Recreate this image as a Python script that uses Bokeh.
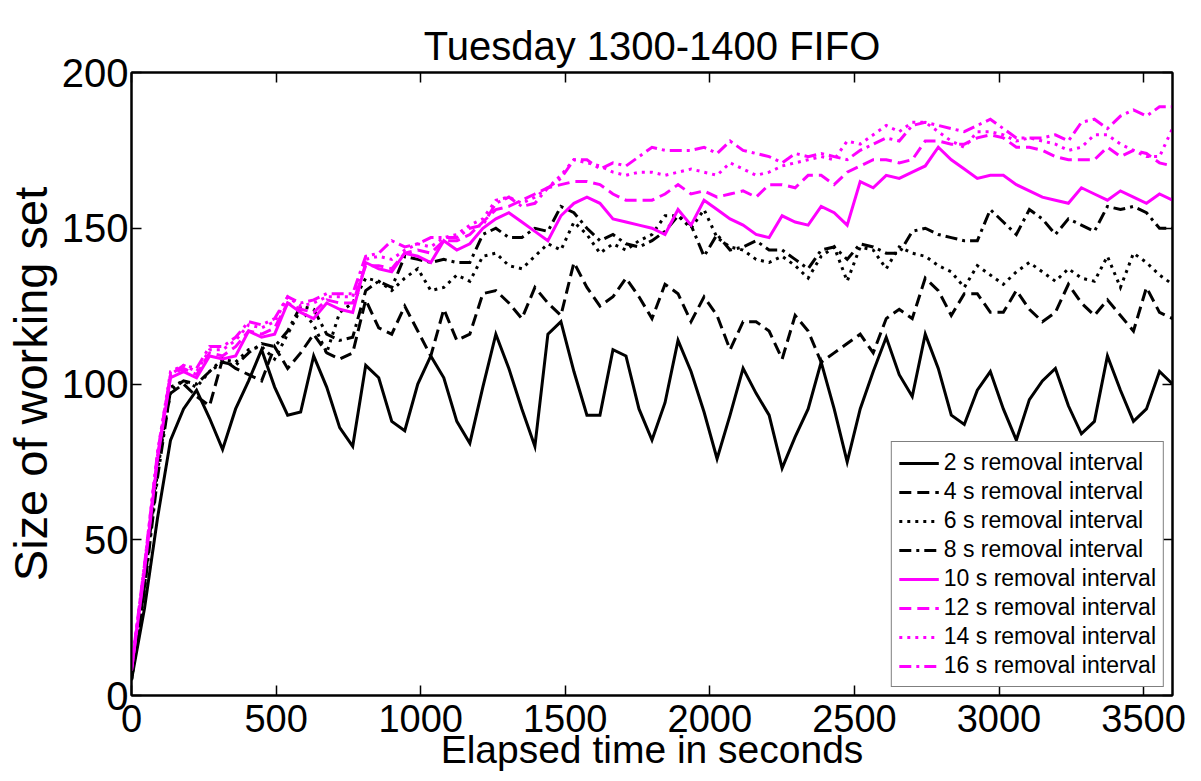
from bokeh.plotting import figure
from bokeh.models import Range1d, LinearAxis, Legend, LegendItem, FixedTicker
from bokeh.embed import file_html
from bokeh.resources import INLINE

# sampling times (s)
time_s = list(range(0, 3601, 45))

s2 = [5, 28, 57, 82, 92, 98, 89, 79, 92, 101,
      111, 99, 90, 91, 109, 99, 86, 80, 106, 102,
      88, 85, 100, 109, 102, 88, 81, 99, 116, 105,
      92, 80, 116, 120, 104, 90, 90, 111, 109, 92,
      82, 94, 114, 104, 91, 76, 90, 105, 97, 90,
      73, 83, 92, 107, 92, 75, 92, 104, 115, 103,
      96, 116, 105, 90, 87, 98, 104, 92, 82, 95,
      101, 105, 93, 84, 88, 109, 98, 88, 92, 104, 100]

s4 = [5, 35, 75, 97, 100, 96, 93, 108, 105, 103,
      101, 112, 105, 110, 116, 110, 108, 110, 127, 118,
      116, 125, 117, 109, 124, 114, 116, 129, 130, 126,
      121, 131, 126, 122, 139, 131, 125, 128, 134, 128,
      121, 132, 129, 120, 128, 122, 111, 120, 120, 117,
      108, 122, 117, 107, 110, 113, 116, 110, 121, 124,
      121, 134, 130, 122, 129, 129, 123, 123, 130, 124,
      120, 123, 132, 126, 122, 127, 122, 117, 131, 123, 121]

s6 = [5, 35, 72, 99, 101, 99, 104, 108, 107, 111,
      112, 108, 116, 124, 119, 110, 123, 126, 134, 133,
      130, 134, 137, 130, 131, 135, 133, 141, 142, 138,
      137, 141, 145, 143, 152, 148, 142, 145, 143, 146,
      148, 154, 154, 150, 156, 147, 144, 143, 140, 139,
      141, 138, 134, 141, 144, 133, 144, 143, 137, 144,
      142, 141, 138, 136, 131, 138, 135, 132, 136, 139,
      136, 133, 137, 134, 133, 141, 131, 142, 139, 135, 132]

s8 = [6, 34, 70, 98, 101, 100, 104, 107, 106, 110,
      113, 112, 117, 125, 124, 116, 114, 115, 130, 133,
      131, 141, 140, 139, 140, 139, 139, 148, 150, 147,
      147, 150, 149, 157, 155, 150, 146, 148, 145, 144,
      146, 149, 154, 151, 141, 148, 143, 144, 146, 143,
      143, 140, 137, 143, 144, 140, 145, 144, 142, 142,
      149, 150, 148, 147, 146, 146, 156, 152, 148, 156,
      153, 148, 153, 151, 149, 157, 156, 157, 155, 150, 150]

s10 = [8, 40, 76, 102, 104, 102, 109, 108, 109, 117,
       115, 116, 126, 123, 121, 126, 124, 123, 139, 137,
       136, 142, 141, 139, 146, 143, 145, 150, 153, 155,
       152, 149, 146, 154, 158, 160, 158, 153, 152, 151,
       150, 148, 156, 151, 159, 156, 153, 151, 148, 147,
       154, 152, 151, 157, 155, 151, 165, 163, 167, 166,
       168, 170, 176, 172, 169, 166, 167, 167, 164, 162,
       160, 159, 158, 163, 161, 159, 162, 160, 158, 161, 159]

s12 = [8, 41, 77, 103, 105, 103, 110, 109, 112, 117,
       116, 118, 126, 124, 123, 127, 126, 126, 138, 138,
       137, 142, 143, 142, 146, 146, 148, 152, 156, 157,
       159, 161, 163, 164, 165, 165, 164, 161, 159, 159,
       159, 161, 164, 161, 162, 160, 161, 162, 160, 164,
       164, 163, 167, 167, 164, 168, 170, 172, 172, 171,
       172, 178, 178, 177, 177, 179, 180, 179, 176, 176,
       175, 173, 172, 172, 172, 176, 173, 175, 174, 171, 170]

s14 = [9, 42, 78, 104, 106, 104, 111, 111, 114, 119,
       118, 120, 128, 125, 126, 128, 128, 128, 140, 141,
       140, 143, 145, 144, 147, 148, 151, 153, 159, 160,
       158, 160, 163, 167, 172, 171, 170, 168, 167, 168,
       168, 167, 168, 169, 168, 167, 171, 169, 167, 168,
       170, 171, 172, 173, 172, 178, 177, 180, 183, 181,
       184, 184, 181, 178, 176, 181, 181, 180, 178, 179,
       178, 177, 175, 176, 180, 180, 177, 175, 173, 173, 182]

s16 = [9, 42, 78, 103, 106, 105, 112, 112, 115, 120,
       119, 121, 128, 126, 127, 129, 129, 129, 141, 142,
       146, 144, 145, 147, 147, 147, 150, 151, 158, 160,
       157, 158, 163, 166, 172, 172, 169, 171, 170, 173,
       176, 175, 175, 175, 176, 174, 178, 175, 174, 173,
       171, 174, 173, 174, 173, 172, 175, 177, 179, 178,
       183, 184, 183, 182, 181, 183, 185, 182, 179, 179,
       179, 180, 178, 184, 185, 182, 186, 188, 186, 189, 189]

labels = ["2 s removal interval", "4 s removal interval", "6 s removal interval",
          "8 s removal interval", "10 s removal interval", "12 s removal interval",
          "14 s removal interval", "16 s removal interval"]
x_ticks = [0, 500, 1000, 1500, 2000, 2500, 3000, 3500]
y_ticks = [0, 50, 100, 150, 200]

FONT = "Liberation Sans"
BLACK = "#000000"
MAGENTA = "#ff00ff"
DASHED = "12 6"
DOTTED = "3 5"
DASHDOT = "12 5 3 5"

series = [
    (s2, BLACK, "solid"), (s4, BLACK, DASHED), (s6, BLACK, DOTTED), (s8, BLACK, DASHDOT),
    (s10, MAGENTA, "solid"), (s12, MAGENTA, DASHED), (s14, MAGENTA, DOTTED), (s16, MAGENTA, DASHDOT),
]

p = figure(width=1201, height=781, output_backend="svg", toolbar_location=None,
           x_range=Range1d(0, 3600), y_range=Range1d(0, 200),
           min_border_left=131, min_border_right=29, min_border_top=72, min_border_bottom=86)
p.background_fill_color = "white"
p.border_fill_color = "white"
p.xgrid.visible = False
p.ygrid.visible = False
p.outline_line_color = "black"
p.outline_line_width = 2

p.title.text = "Tuesday 1300-1400 FIFO"
p.title.align = "center"
p.title.text_font = FONT
p.title.text_font_size = "40px"
p.title.text_font_style = "normal"
p.title.text_color = "black"

def style_axis(ax, ticks, show_labels=True):
    ax.ticker = FixedTicker(ticks=ticks)
    ax.axis_line_color = "black"
    ax.axis_line_width = 2
    ax.major_tick_in = 10
    ax.major_tick_out = 0
    ax.major_tick_line_width = 1.5
    ax.minor_tick_in = 0
    ax.minor_tick_out = 0
    ax.major_label_text_font = FONT
    ax.major_label_text_color = "black"
    if not show_labels:
        ax.major_label_text_color = None
        ax.major_label_text_font_size = "1px"
        ax.major_label_standoff = 0

xa = p.xaxis[0]
style_axis(xa, x_ticks)
xa.major_label_text_font_size = "38px"
xa.major_label_standoff = 9
xa.axis_label = "Elapsed time in seconds"
xa.axis_label_text_font = FONT
xa.axis_label_text_font_size = "39px"
xa.axis_label_text_font_style = "normal"
xa.axis_label_text_color = "black"
xa.axis_label_standoff = -7

ya = p.yaxis[0]
style_axis(ya, y_ticks)
ya.major_label_text_font_size = "40px"
ya.major_label_standoff = 3
ya.axis_label = "Size of working set"
ya.axis_label_text_font = FONT
ya.axis_label_text_font_size = "47px"
ya.axis_label_text_font_style = "normal"
ya.axis_label_text_color = "black"
ya.axis_label_standoff = 2

top_ax = LinearAxis()
style_axis(top_ax, x_ticks, show_labels=False)
top_ax.major_label_standoff = 14
p.add_layout(top_ax, "above")
right_ax = LinearAxis()
style_axis(right_ax, y_ticks, show_labels=False)
p.add_layout(right_ax, "right")

items = []
for (vals, color, dash), lab in zip(series, labels):
    r = p.line(time_s, vals, line_color=color, line_width=3, line_dash=dash,
               line_join="miter", line_cap="butt")
    items.append(LegendItem(label=lab, renderers=[r]))

legend = Legend(items=items, location="bottom_right", margin=8,
                label_text_font=FONT, label_text_font_size="23px",
                label_text_color="black",
                glyph_width=40, glyph_height=22, label_height=22,
                spacing=2, padding=7, label_standoff=5,
                border_line_color="black", border_line_width=1.5,
                background_fill_color="white", background_fill_alpha=1.0)
p.add_layout(legend)

open("out.html", "w").write(file_html(p, INLINE))
